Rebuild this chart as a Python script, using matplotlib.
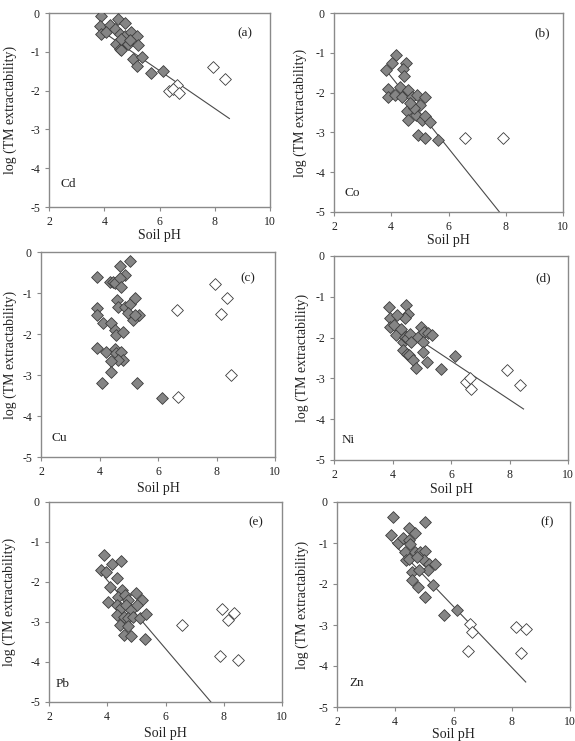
import matplotlib
matplotlib.use("Agg")
import matplotlib.pyplot as plt
import numpy as np

plt.rcParams['font.family'] = ['Liberation Serif', 'DejaVu Serif']
plt.rcParams['axes.unicode_minus'] = False

# ---------------- data ----------------
elements = ["Cd", "Co", "Cu", "Ni", "Pb", "Zn"]
panel_tags = ["(a)", "(b)", "(c)", "(d)", "(e)", "(f)"]

# Cd
cd_ph_f = [3.90, 3.84, 3.90, 4.20, 4.08, 4.50, 4.38, 4.56, 4.44, 4.56, 4.62, 4.74, 4.86, 4.98,
           5.17, 5.23, 5.05, 5.35, 5.19, 5.71, 6.13, 4.74, 4.62, 4.92]
cd_lg_f = [-0.08, -0.34, -0.53, -0.32, -0.49, -0.15, -0.40, -0.53, -0.79, -0.92, -0.96, -0.58, -0.79, -0.49,
           -0.58, -0.83, -1.18, -1.13, -1.37, -1.55, -1.50, -0.27, -0.66, -0.70]
cd_ph_o = [6.35, 6.62, 6.50, 6.70, 7.95, 8.37]
cd_lg_o = [-2.02, -1.86, -1.95, -2.06, -1.39, -1.69]

# Co
co_ph_f = [4.17, 4.02, 3.82, 4.51, 4.42, 4.45, 3.88, 3.90, 4.13, 4.30, 4.36, 4.57, 4.72, 4.89, 5.01,
           5.18, 4.54, 4.60, 4.86, 5.07, 5.18, 5.36, 4.95, 5.18, 5.65, 4.80, 4.66]
co_lg_f = [-1.05, -1.26, -1.44, -1.26, -1.41, -1.58, -1.91, -2.11, -2.06, -1.86, -2.10, -1.93, -2.10, -2.06, -2.31,
           -2.11, -2.47, -2.68, -2.56, -2.68, -2.60, -2.73, -3.06, -3.13, -3.19, -2.39, -2.27]
co_ph_o = [6.58, 7.92]
co_lg_o = [-3.13, -3.15]

# Cu
cu_ph_f = [3.92, 4.35, 4.47, 4.53, 4.70, 4.87, 4.70, 4.72, 5.03, 3.90, 3.92, 4.13, 4.41, 4.53, 4.58,
           4.81, 4.61, 4.64, 4.87, 5.03, 4.98, 5.21, 5.15, 5.36, 5.21, 3.90, 4.21, 4.53, 4.58, 4.75,
           4.81, 4.64, 4.39, 4.41, 4.10, 5.29, 6.13]
cu_lg_f = [-0.61, -0.74, -0.72, -0.76, -0.35, -0.55, -0.64, -0.86, -0.23, -1.37, -1.53, -1.73, -1.73, -1.90, -2.02,
           -1.95, -1.17, -1.33, -1.33, -1.27, -1.49, -1.11, -1.65, -1.53, -1.53, -2.35, -2.44, -2.36, -2.47, -2.43,
           -2.63, -2.63, -2.67, -2.92, -3.20, -3.20, -3.55]
cu_ph_o = [6.64, 7.95, 8.35, 8.16, 8.49, 6.70]
cu_lg_o = [-1.42, -0.78, -1.11, -1.51, -3.00, -3.53]

# Ni
ni_ph_f = [3.87, 4.46, 4.53, 4.44, 3.90, 4.17, 3.90, 4.05, 4.11, 4.30, 4.36, 4.42, 4.51, 4.59, 4.64,
           4.36, 4.48, 4.55, 4.70, 4.81, 4.87, 4.99, 5.08, 5.21, 5.35, 5.04, 5.04, 5.19, 5.67, 6.15]
ni_lg_f = [-1.25, -1.19, -1.41, -1.53, -1.52, -1.45, -1.74, -1.68, -1.93, -1.78, -2.10, -1.98, -2.02, -1.90, -2.10,
           -2.31, -2.39, -2.43, -2.55, -2.74, -1.98, -1.74, -1.86, -1.88, -1.93, -2.10, -2.35, -2.59, -2.76, -2.45]
ni_ph_o = [6.52, 6.64, 6.70, 7.93, 8.35]
ni_lg_o = [-3.10, -3.00, -3.25, -2.80, -3.15]

# Pb
pb_ph_f = [3.89, 4.15, 4.46, 3.80, 3.95, 4.32, 4.09, 4.03, 4.49, 4.38, 4.61, 4.72, 4.98, 5.21, 4.32,
           4.46, 4.64, 4.80, 5.01, 4.32, 4.58, 4.72, 4.87, 5.12, 5.33, 4.43, 4.72, 4.57, 4.80, 5.30]
pb_lg_f = [-1.33, -1.55, -1.48, -1.70, -1.74, -1.91, -2.12, -2.49, -2.20, -2.37, -2.33, -2.45, -2.28, -2.45, -2.57,
           -2.66, -2.57, -2.70, -2.57, -2.82, -2.87, -2.91, -2.87, -2.91, -2.80, -3.07, -3.11, -3.32, -3.36, -3.42]
pb_ph_o = [6.57, 7.94, 8.14, 8.34, 7.88, 8.48]
pb_lg_o = [-3.07, -2.67, -2.95, -2.77, -3.86, -3.95]

# Zn
zn_ph_f = [3.91, 5.01, 4.46, 4.69, 3.86, 4.09, 4.25, 4.48, 4.51, 4.34, 4.36, 4.48, 4.69, 4.86, 5.03,
           4.97, 4.74, 5.17, 5.35, 5.14, 4.57, 4.80, 4.57, 4.78, 5.29, 5.03, 5.66, 6.11]
zn_lg_f = [-0.37, -0.49, -0.63, -0.76, -0.80, -1.00, -0.87, -0.92, -1.02, -1.22, -1.42, -1.38, -1.22, -1.22, -1.20,
           -1.41, -1.34, -1.50, -1.52, -1.67, -1.71, -1.67, -1.91, -2.07, -2.03, -2.32, -2.76, -2.63]
zn_ph_o = [6.57, 6.63, 6.49, 8.14, 8.48, 8.31]
zn_lg_o = [-2.97, -3.17, -3.63, -3.05, -3.09, -3.68]

# regression lines (endpoints): pH start/end, log start/end; None = no line
fit_ph = [[3.90, 8.53], [3.82, 7.78], None, [3.90, 8.48], [3.90, 7.56], [3.90, 8.48]]
fit_lg = [[-0.46, -2.72], [-1.44, -5.00], None, [-1.57, -3.75], [-1.87, -5.00], [-0.99, -4.39]]

filled = [(cd_ph_f, cd_lg_f), (co_ph_f, co_lg_f), (cu_ph_f, cu_lg_f),
          (ni_ph_f, ni_lg_f), (pb_ph_f, pb_lg_f), (zn_ph_f, zn_lg_f)]
opened = [(cd_ph_o, cd_lg_o), (co_ph_o, co_lg_o), (cu_ph_o, cu_lg_o),
          (ni_ph_o, ni_lg_o), (pb_ph_o, pb_lg_o), (zn_ph_o, zn_lg_o)]

x_ticks = [2, 4, 6, 8, 10]
y_ticks = [0, -1, -2, -3, -4, -5]

# ---------------- layout ----------------
W, H = 575, 741
# pixel boxes (left, top, right, bottom)
boxes = [(49, 13, 270, 207), (334, 13, 563, 212),
         (41, 252, 275, 457), (334, 256, 568, 460),
         (49, 502, 282, 702), (337, 502, 570, 707)]
tag_pos = [(0.887, 0.897), (0.908, 0.90), (0.885, 0.873), (0.893, 0.892), (0.888, 0.90), (0.90, 0.90)]
el_pos = [(0.086, 0.118), (0.079, 0.095), (0.08, 0.093), (0.06, 0.098), (0.06, 0.09), (0.086, 0.117)]
xlab_pad = [0.8, 0.8, 3.0, 1.5, 3.0, 0.3]
ylab_x = [10, 300, 10, 302, 9, 302]   # centre of the y label, pixels

fig = plt.figure(figsize=(W / 100, H / 100), dpi=100)
fig.patch.set_facecolor('white')

spine_col = '#8a8a8a'
for i in range(6):
    l, t, r, b = boxes[i]
    ax = fig.add_axes([l / W, 1 - b / H, (r - l) / W, (b - t) / H])
    ax.set_xlim(2, 10)
    ax.set_ylim(-5, 0)
    ax.set_xticks(x_ticks)
    ax.set_yticks(y_ticks)
    ax.set_xticklabels([str(v) for v in x_ticks])
    ax.set_yticklabels([str(v) for v in y_ticks])
    for s in ax.spines.values():
        s.set_color(spine_col)
        s.set_linewidth(1.0)
    ax.tick_params(direction='out', length=3, width=0.8, color=spine_col,
                   labelsize=8.5, pad=3.5, labelcolor='#222222')
    if fit_ph[i] is not None:
        ax.plot(fit_ph[i], fit_lg[i], color='#4a4a4a', lw=0.8, zorder=2)
    fx, fy = filled[i]
    ax.scatter(fx, fy, marker='D', s=36, facecolor='#858585', edgecolor='#3c3c3c',
               linewidths=0.6, zorder=3)
    ox, oy = opened[i]
    ax.scatter(ox, oy, marker='D', s=36, facecolor='white', edgecolor='#3c3c3c',
               linewidths=0.6, zorder=3)
    ax.text(tag_pos[i][0], tag_pos[i][1], panel_tags[i], transform=ax.transAxes,
            ha='center', va='center', fontsize=9.5, color='#222222')
    ax.text(el_pos[i][0], el_pos[i][1], elements[i], transform=ax.transAxes,
            ha='center', va='center', fontsize=9.5, color='#222222')
    ax.set_xlabel('Soil pH', fontsize=10, labelpad=xlab_pad[i], color='#222222')
    ax.set_ylabel('log (TM extractability)', fontsize=10, color='#222222')
    ax.yaxis.set_label_coords((ylab_x[i] + 7 - l) / (r - l), 0.5)

fig.savefig('out.png', dpi=100, facecolor='white')
